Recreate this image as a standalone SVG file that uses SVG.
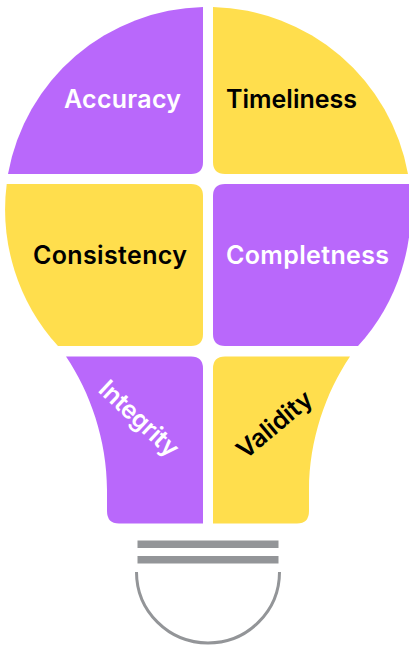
<svg xmlns="http://www.w3.org/2000/svg" width="409" height="648" viewBox="0 0 409 648">
<style>
.p{fill:#b968fb}.y{fill:#ffde4d}
text{font-family:Inter,"Liberation Sans",sans-serif;font-weight:600;font-size:25px}
.w{fill:#fff}.k{fill:#000}
.g{fill:#939598}
</style>
<rect width="409" height="648" fill="#fff"/>
<g id="accuracy"><path class="p" d="M8 174A203 203 0 0 1 203 7V162Q203 174 191 174Z"/><text class="w" x="64" y="108" textLength="117">Accuracy</text></g>
<g id="timeliness"><path class="y" d="M408 174A203 203 0 0 0 213 7V162Q213 174 225 174Z"/><text class="k" x="226" y="108" textLength="131">Timeliness</text></g>
<g id="consistency"><path class="y" d="M6.700 184A203 203 0 0 0 58 346H191Q203 346 203 334V196Q203 184 191 184Z"/><text class="k" x="33" y="264" textLength="154">Consistency</text></g>
<g id="completness"><path class="p" d="M409.300 184A203 203 0 0 1 358 346H225Q213 346 213 334V196Q213 184 225 184Z"/><text class="w" x="226" y="264" textLength="163">Completness</text></g>
<g id="integrity"><path class="p" d="M66 356.500C90 392 107 440 107 490V511Q107 523.500 119 523.500H203V368.500Q203 356.500 191 356.500Z"/><text class="w" transform="translate(97 391) rotate(43)" textLength="99">Integrity</text></g>
<g id="validity"><path class="y" d="M350 356.500C326 392 309 440 309 490V511Q309 523.500 297 523.500H213V368.500Q213 356.500 225 356.500Z"/><text class="k" transform="translate(245.500 460) rotate(-40)" textLength="90">Validity</text></g>
<g id="lamp-base"><rect class="g" x="137.500" y="540.500" width="141" height="7.500"/><rect class="g" x="137.500" y="556" width="141" height="7.500"/><path d="M136.500 572A71.500 71 0 0 0 279.500 572" fill="none" stroke="#939598" stroke-width="3"/></g>
</svg>
